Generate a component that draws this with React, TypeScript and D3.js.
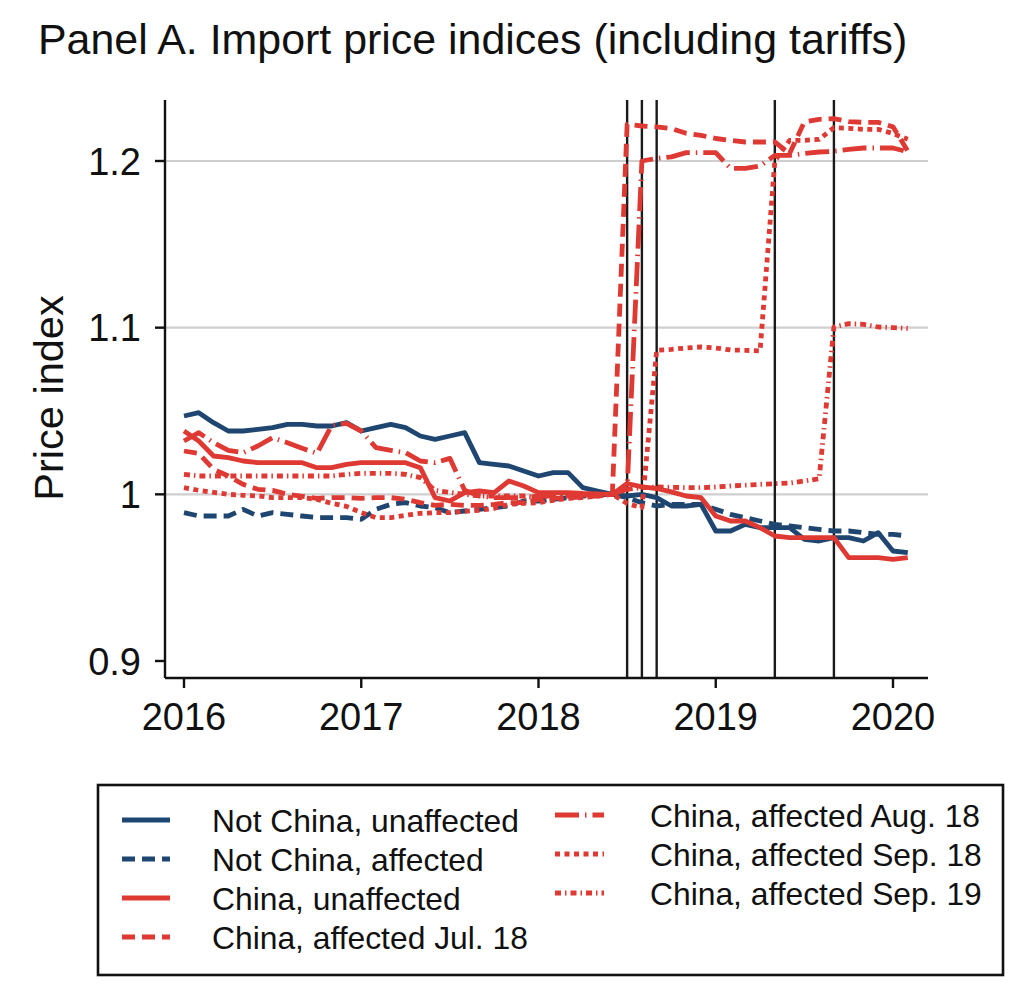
import React from 'react';
import * as d3 from 'd3';

// Monthly observations, Jan 2016 .. Feb 2020 (50 months)
const months: string[] = d3.timeMonth
  .range(new Date(2016, 0, 1), new Date(2020, 2, 1))
  .map((d) => d3.timeFormat('%Y-%m')(d));

const notChinaUnaffected = [1.047, 1.049, 1.043, 1.038, 1.038, 1.039, 1.040, 1.042, 1.042, 1.041, 1.041, 1.043, 1.038, 1.040, 1.042, 1.040, 1.035, 1.033, 1.035, 1.037, 1.019, 1.018, 1.017, 1.014, 1.011, 1.013, 1.013, 1.004, 1.002, 1.000, 0.999, 1.000, 0.998, 0.993, 0.993, 0.994, 0.978, 0.978, 0.982, 0.980, 0.980, 0.980, 0.973, 0.972, 0.974, 0.974, 0.972, 0.977, 0.966, 0.965];
const notChinaAffected = [0.989, 0.987, 0.987, 0.987, 0.991, 0.987, 0.989, 0.988, 0.987, 0.986, 0.986, 0.986, 0.985, 0.991, 0.994, 0.995, 0.993, 0.992, 0.989, 0.990, 0.991, 0.992, 0.993, 0.996, 0.996, 0.997, 0.998, 0.999, 0.9995, 1.000, 0.998, 0.995, 0.993, 0.994, 0.994, 0.994, 0.991, 0.988, 0.986, 0.984, 0.982, 0.981, 0.980, 0.979, 0.978, 0.978, 0.977, 0.976, 0.976, 0.975];
const chinaUnaffected = [1.038, 1.032, 1.023, 1.022, 1.020, 1.019, 1.019, 1.019, 1.019, 1.016, 1.016, 1.018, 1.019, 1.019, 1.019, 1.019, 1.016, 0.998, 0.996, 1.001, 1.002, 1.001, 1.008, 1.005, 1.001, 1.001, 1.001, 1.0005, 1.0003, 1.000, 1.0065, 1.0045, 1.0035, 1.0015, 0.999, 0.998, 0.987, 0.984, 0.984, 0.980, 0.975, 0.974, 0.974, 0.974, 0.974, 0.962, 0.962, 0.962, 0.961, 0.962];
const chinaJul18 = [1.026, 1.0245, 1.015, 1.011, 1.006, 1.003, 1.0024, 1.000, 0.9988, 0.9976, 0.998, 0.998, 0.9976, 0.998, 0.998, 0.997, 0.995, 0.9934, 0.994, 0.9934, 0.9934, 0.994, 0.995, 0.995, 0.997, 0.9976, 0.998, 0.9985, 0.999, 1.000, 1.222, 1.221, 1.2205, 1.2195, 1.2166, 1.2154, 1.2135, 1.2124, 1.2114, 1.2114, 1.2114, 1.2045, 1.2235, 1.225, 1.2254, 1.2236, 1.2232, 1.2232, 1.2205, 1.206];
const chinaAug18 = [1.032, 1.037, 1.031, 1.0264, 1.025, 1.029, 1.034, 1.031, 1.0276, 1.0246, 1.0414, 1.0426, 1.038, 1.028, 1.0264, 1.025, 1.020, 1.019, 1.0216, 1.0024, 0.999, 0.998, 0.998, 0.998, 0.999, 0.999, 0.999, 0.9995, 1.000, 1.000, 1.003, 1.200, 1.2016, 1.2025, 1.205, 1.205, 1.205, 1.1956, 1.1956, 1.197, 1.2034, 1.2034, 1.2045, 1.2054, 1.2058, 1.207, 1.2078, 1.2078, 1.2078, 1.2055];
const chinaSep18 = [1.004, 1.0024, 1.0012, 1.000, 0.9994, 0.999, 0.998, 0.998, 0.998, 0.997, 0.9946, 0.9928, 0.989, 0.986, 0.986, 0.9874, 0.9886, 0.989, 0.989, 0.9898, 0.9904, 0.9916, 0.994, 0.9946, 0.995, 0.9964, 0.9976, 0.998, 0.999, 1.000, 0.9945, 0.992, 1.0864, 1.087, 1.0878, 1.0884, 1.0878, 1.0866, 1.0864, 1.086, 1.200, 1.2124, 1.2124, 1.213, 1.220, 1.2196, 1.219, 1.219, 1.2165, 1.213];
const chinaSep19 = [1.012, 1.011, 1.011, 1.011, 1.011, 1.011, 1.011, 1.011, 1.011, 1.011, 1.011, 1.012, 1.0126, 1.0126, 1.0126, 1.012, 1.010, 1.0024, 1.0012, 1.000, 0.999, 0.999, 0.999, 0.999, 0.998, 0.999, 0.999, 1.000, 1.000, 1.000, 1.003, 1.004, 1.0044, 1.0042, 1.004, 1.004, 1.0044, 1.005, 1.0055, 1.006, 1.0064, 1.0068, 1.008, 1.0094, 1.1004, 1.1024, 1.102, 1.1004, 1.100, 1.0995];

const xTickMonths = ['2016-01', '2017-01', '2018-01', '2019-01', '2020-01'];
const xTickLabels = ['2016', '2017', '2018', '2019', '2020'];
const yTickValues = [0.9, 1.0, 1.1, 1.2];
const yTickLabels = ['0.9', '1', '1.1', '1.2'];
const gridValues = [1.0, 1.1, 1.2];
const tariffMonths = ['2018-07', '2018-08', '2018-09', '2019-05', '2019-09'];

const NAVY = '#1f4671';
const RED = '#de3a33';

const seriesDefs = [
  { name: 'Not China, unaffected', values: notChinaUnaffected, color: NAVY, dash: '' },
  { name: 'Not China, affected', values: notChinaAffected, color: NAVY, dash: '13,7' },
  { name: 'China, unaffected', values: chinaUnaffected, color: RED, dash: '' },
  { name: 'China, affected Jul. 18', values: chinaJul18, color: RED, dash: '13,7' },
  { name: 'China, affected Aug. 18', values: chinaAug18, color: RED, dash: '24,6,1.5,6' },
  { name: 'China, affected Sep. 18', values: chinaSep18, color: RED, dash: '5,4.5' },
  { name: 'China, affected Sep. 19', values: chinaSep19, color: RED, dash: '6,4,1.5,4' },
];

const FONT = '"Liberation Sans", Arial, Helvetica, sans-serif';
const LW = 4.8;

export default function App() {
  const W = 1016;
  const H = 986;
  const monthIdx = (m: string) => months.indexOf(m);
  const x = d3.scaleLinear().domain([0, 48]).range([184, 893]);
  const y = d3.scaleLinear().domain([0.9, 1.2]).range([661, 161]);
  const plotLeft = 165;
  const plotRight = 928;
  const plotTop = 100;
  const plotBottom = 678;

  const line = d3
    .line<number>()
    .x((_, i) => x(i))
    .y((d) => y(d));

  const col1 = seriesDefs.slice(0, 4);
  const col2 = seriesDefs.slice(4);

  return (
    <svg
      width={W}
      height={H}
      viewBox={`0 0 ${W} ${H}`}
      style={{ position: 'absolute', left: 0, top: 0, background: '#fff' }}
      fontFamily={FONT}
    >
      <rect x={0} y={0} width={W} height={H} fill="#fff" />
      <text x={38} y={54} fontSize={42.9} fill="#111">
        Panel A. Import price indices (including tariffs)
      </text>

      {/* grid */}
      {gridValues.map((g) => (
        <line key={g} x1={plotLeft} x2={plotRight} y1={y(g)} y2={y(g)} stroke="#cfcfcf" strokeWidth={2.2} />
      ))}

      {/* tariff event lines */}
      {tariffMonths.map((m) => (
        <line
          key={m}
          x1={x(monthIdx(m))}
          x2={x(monthIdx(m))}
          y1={plotTop}
          y2={plotBottom}
          stroke="#1a1a1a"
          strokeWidth={2.4}
        />
      ))}

      {/* series */}
      {seriesDefs.map((s) => (
        <path
          key={s.name}
          d={line(s.values) || ''}
          fill="none"
          stroke={s.color}
          strokeWidth={LW}
          strokeDasharray={s.dash || undefined}
          strokeLinejoin="round"
        />
      ))}

      {/* axes */}
      <line x1={plotLeft} x2={plotLeft} y1={plotTop} y2={plotBottom} stroke="#111" strokeWidth={2.4} />
      <line x1={plotLeft} x2={plotRight} y1={plotBottom} y2={plotBottom} stroke="#111" strokeWidth={2.4} />
      {yTickValues.map((v, i) => (
        <g key={v}>
          <line x1={plotLeft - 10} x2={plotLeft} y1={y(v)} y2={y(v)} stroke="#111" strokeWidth={2.4} />
          <text x={141} y={y(v) + 13.5} fontSize={38} textAnchor="end" fill="#111">
            {yTickLabels[i]}
          </text>
        </g>
      ))}
      {xTickMonths.map((m, i) => (
        <g key={m}>
          <line
            x1={x(monthIdx(m))}
            x2={x(monthIdx(m))}
            y1={plotBottom}
            y2={plotBottom + 10}
            stroke="#111"
            strokeWidth={2.4}
          />
          <text x={x(monthIdx(m))} y={730} fontSize={38} textAnchor="middle" fill="#111">
            {xTickLabels[i]}
          </text>
        </g>
      ))}
      <text
        transform={`translate(63, 398) rotate(-90)`}
        fontSize={41.5}
        textAnchor="middle"
        fill="#111"
      >
        Price index
      </text>

      {/* legend */}
      <rect x={98} y={785} width={905} height={190} fill="#fff" stroke="#111" strokeWidth={2.6} />
      {col1.map((s, i) => {
        const cy = 820 + i * 39;
        return (
          <g key={s.name}>
            <line x1={122} x2={170} y1={cy} y2={cy} stroke={s.color} strokeWidth={LW} strokeDasharray={s.dash || undefined} />
            <text x={212} y={cy + 11.5} fontSize={31.8} fill="#111">
              {s.name}
            </text>
          </g>
        );
      })}
      {col2.map((s, i) => {
        const cy = 815 + i * 39;
        return (
          <g key={s.name}>
            <line x1={555} x2={604} y1={cy} y2={cy} stroke={s.color} strokeWidth={LW} strokeDasharray={s.dash || undefined} />
            <text x={650} y={cy + 11.5} fontSize={31.8} fill="#111">
              {s.name}
            </text>
          </g>
        );
      })}
    </svg>
  );
}
